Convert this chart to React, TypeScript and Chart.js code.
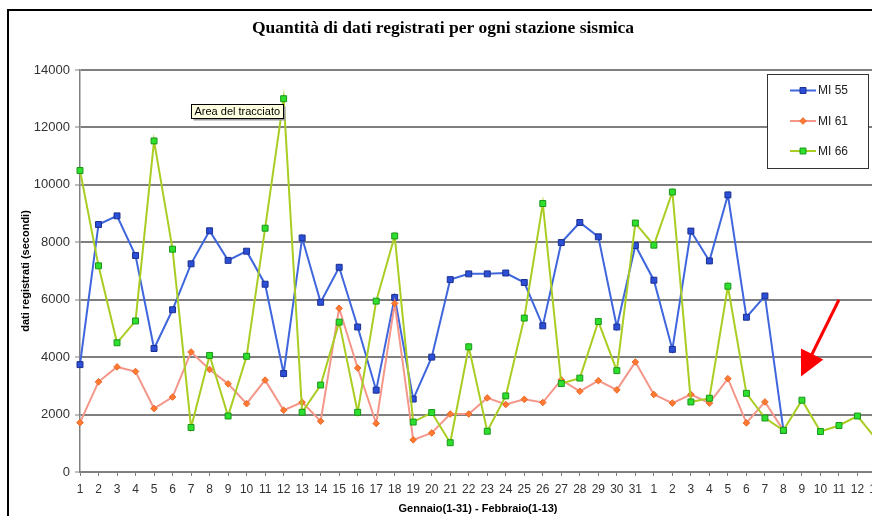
import { useEffect, useRef } from "react";
import { Chart, registerables } from "chart.js";

Chart.register(...registerables);

const TITLE = "Quantità di dati registrati per ogni stazione sismica";
const Y_TITLE = "dati registrati (secondi)";
const X_TITLE = "Gennaio(1-31) - Febbraio(1-13)";
const TOOLTIP_TEXT = "Area del tracciato";

const GENNAIO = ["1","2","3","4","5","6","7","8","9","10","11","12","13","14","15","16","17","18","19","20","21","22","23","24","25","26","27","28","29","30","31"];
const FEBBRAIO = ["1","2","3","4","5","6","7","8","9","10","11","12","13"];
const CATEGORIES = [...GENNAIO, ...FEBBRAIO];

const SERIES_NAMES = ["MI 55", "MI 61", "MI 66"];

const MI55 = [3740, 8620, 8920, 7540, 4300, 5650, 7250, 8400, 7370, 7690,
  6540, 3430, 8150, 5910, 7130, 5050, 2850, 6080, 2540, 4000,
  6700, 6900, 6900, 6930, 6600, 5090, 7990, 8690, 8190, 5050,
  7890, 6680, 4270, 8390, 7350, 9650, 5390, 6130, 1450, null, null, null, null, null];

const MI61 = [1720, 3140, 3660, 3500, 2210, 2610, 4180, 3570, 3070, 2380,
  3200, 2150, 2430, 1770, 5700, 3620, 1690, 5870, 1120, 1360,
  2020, 2020, 2580, 2350, 2530, 2420, 3210, 2810, 3180, 2860,
  3830, 2700, 2400, 2700, 2400, 3250, 1710, 2440, 1450, null, null, null, null, null];

const MI66 = [10500, 7180, 4500, 5260, 11530, 7760, 1550, 4060, 1950, 4030,
  8490, 13000, 2080, 3030, 5220, 2080, 5950, 8220, 1740, 2070,
  1020, 4360, 1420, 2650, 5360, 9350, 3080, 3270, 5240, 3530,
  8670, 7900, 9750, 2440, 2570, 6470, 2740, 1880, 1450, 2500,
  1410, 1620, 1950, 1150];

const Y_MIN = 0;
const Y_MAX = 14000;
const Y_STEP = 2000;

// arrow annotation in data coordinates (category index, value)
const ARROW_FROM = [41.0, 6000];
const ARROW_TO = [38.95, 3330];

const STYLES = [
  { line: "#3f66dd", fill: "#2b4fd6", border: "#1c2f8f", shape: "rect", radius: 4.2 },
  { line: "#f4978a", fill: "#ff7a30", border: "#e8682a", shape: "rectRot", radius: 3.3 },
  { line: "#a9cd22", fill: "#2ee02e", border: "#1a961a", shape: "rect", radius: 4.2 },
];

const SANS = "Liberation Sans";

function drawMarker(ctx: CanvasRenderingContext2D, s: any, x: number, y: number) {
  ctx.fillStyle = s.fill;
  ctx.strokeStyle = s.border;
  ctx.lineWidth = 1;
  ctx.beginPath();
  if (s.shape === "rect") {
    const h = s.radius * Math.SQRT1_2;
    ctx.rect(x - h, y - h, 2 * h, 2 * h);
  } else {
    const r = s.radius;
    ctx.moveTo(x, y - r);
    ctx.lineTo(x + r, y);
    ctx.lineTo(x, y + r);
    ctx.lineTo(x - r, y);
    ctx.closePath();
  }
  ctx.fill();
  ctx.stroke();
}

const decorPlugin = {
  id: "decor",
  afterDraw(chart: any) {
    const ctx: CanvasRenderingContext2D = chart.ctx;
    const xs = chart.scales.x;
    const ys = chart.scales.y;
    ctx.save();

    // outer frame
    ctx.strokeStyle = "#000";
    ctx.lineWidth = 2;
    ctx.beginPath();
    ctx.moveTo(8, chart.height);
    ctx.lineTo(8, 10);
    ctx.lineTo(chart.width, 10);
    ctx.stroke();

    // title
    ctx.fillStyle = "#000";
    ctx.font = 'bold 17.5px "Liberation Serif"';
    ctx.textAlign = "center";
    ctx.textBaseline = "middle";
    ctx.fillText(TITLE, 443, 28);

    // legend
    const lx = 767.5, ly = 74.5, lw = 101, lh = 94;
    ctx.fillStyle = "#fff";
    ctx.fillRect(lx, ly, lw, lh);
    ctx.strokeStyle = "#333";
    ctx.lineWidth = 1;
    ctx.strokeRect(lx, ly, lw, lh);
    const rows = [90.5, 121, 151];
    SERIES_NAMES.forEach((name, i) => {
      const s = STYLES[i];
      const y = rows[i];
      ctx.strokeStyle = s.line;
      ctx.lineWidth = 2;
      ctx.beginPath();
      ctx.moveTo(790, y);
      ctx.lineTo(816, y);
      ctx.stroke();
      drawMarker(ctx, s, 803, y);
      ctx.fillStyle = "#222";
      ctx.font = `12px "${SANS}"`;
      ctx.textAlign = "left";
      ctx.textBaseline = "middle";
      ctx.fillText(name, 818, y + 0.5);
    });

    // tooltip box
    const tx = 191.5, ty = 104.5, tw = 92, th = 14;
    ctx.fillStyle = "#9a9a9a";
    ctx.fillRect(tx + 2, ty + 2, tw, th);
    ctx.fillStyle = "#ffffe1";
    ctx.fillRect(tx, ty, tw, th);
    ctx.strokeStyle = "#000";
    ctx.lineWidth = 1;
    ctx.strokeRect(tx, ty, tw, th);
    ctx.fillStyle = "#000";
    ctx.font = `11px "${SANS}"`;
    ctx.textAlign = "left";
    ctx.textBaseline = "middle";
    ctx.fillText(TOOLTIP_TEXT, tx + 3, ty + th / 2 + 0.5);

    // red arrow
    const x0 = xs.getPixelForValue(ARROW_FROM[0]);
    const y0 = ys.getPixelForValue(ARROW_FROM[1]);
    const x1 = xs.getPixelForValue(ARROW_TO[0]);
    const y1 = ys.getPixelForValue(ARROW_TO[1]);
    const dx = x1 - x0, dy = y1 - y0;
    const len = Math.hypot(dx, dy);
    const ux = dx / len, uy = dy / len;
    const headLen = 25, headHalf = 12.5;
    const bx = x1 - ux * headLen, by = y1 - uy * headLen;
    ctx.strokeStyle = "#ff0000";
    ctx.fillStyle = "#ff0000";
    ctx.lineWidth = 3;
    ctx.beginPath();
    ctx.moveTo(x0, y0);
    ctx.lineTo(bx + ux * 2, by + uy * 2);
    ctx.stroke();
    ctx.beginPath();
    ctx.moveTo(x1, y1);
    ctx.lineTo(bx - uy * headHalf, by + ux * headHalf);
    ctx.lineTo(bx + uy * headHalf, by - ux * headHalf);
    ctx.closePath();
    ctx.fill();

    ctx.restore();
  },
};

export default function App() {
  const canvasRef = useRef<HTMLCanvasElement | null>(null);

  useEffect(() => {
    if (!canvasRef.current) return;
    const datasets = [MI55, MI61, MI66].map((data, i) => {
      const s = STYLES[i];
      return {
        label: SERIES_NAMES[i],
        data,
        borderColor: s.line,
        backgroundColor: s.fill,
        borderWidth: 2,
        pointStyle: s.shape,
        pointRadius: s.radius,
        pointBackgroundColor: s.fill,
        pointBorderColor: s.border,
        pointBorderWidth: 1,
        tension: 0,
        spanGaps: false,
        order: 2 - i,
      };
    });

    const chart = new Chart(canvasRef.current, {
      type: "line",
      data: { labels: CATEGORIES, datasets: datasets as any },
      options: {
        responsive: false,
        animation: false,
        devicePixelRatio: 1,
        layout: { padding: { top: 70, right: 24, bottom: 0, left: 0 } },
        plugins: {
          legend: { display: false },
          title: { display: false },
          tooltip: { enabled: false },
        },
        scales: {
          x: {
            type: "category",
            offset: false,
            grid: {
              drawOnChartArea: false,
              drawTicks: true,
              tickLength: 4,
              color: "#808080",
              lineWidth: 1,
            },
            border: { color: "#808080", width: 1.5 },
            ticks: {
              autoSkip: false,
              maxRotation: 0,
              minRotation: 0,
              padding: 6,
              color: "#333",
              font: { family: SANS, size: 12 },
            },
            title: {
              display: true,
              text: X_TITLE,
              color: "#000",
              font: { family: SANS, size: 11, weight: "bold" },
              padding: 0,
            },
            afterFit: (s: any) => {
              s.height = 44;
            },
          },
          y: {
            min: Y_MIN,
            max: Y_MAX,
            ticks: {
              stepSize: Y_STEP,
              padding: 5,
              color: "#333",
              font: { family: SANS, size: 13 },
              callback: (v: any) => String(v),
            },
            grid: {
              color: "#7f7f7f",
              lineWidth: 2,
              tickLength: 5,
              tickColor: "#808080",
              tickWidth: 1,
            },
            border: { color: "#808080", width: 1.5 },
            title: {
              display: true,
              text: Y_TITLE,
              color: "#000",
              font: { family: SANS, size: 11, weight: "bold" },
              padding: { top: 19, bottom: 0 },
            },
            afterFit: (s: any) => {
              s.width = 80;
            },
          },
        } as any,
      },
      plugins: [decorPlugin],
    });
    return () => chart.destroy();
  }, []);

  return (
    <div
      style={{
        position: "fixed",
        left: 0,
        top: 0,
        width: 872,
        height: 516,
        overflow: "hidden",
        background: "#fff",
      }}
    >
      <canvas ref={canvasRef} width={900} height={516} style={{ display: "block", width: 900, height: 516 }} />
    </div>
  );
}
